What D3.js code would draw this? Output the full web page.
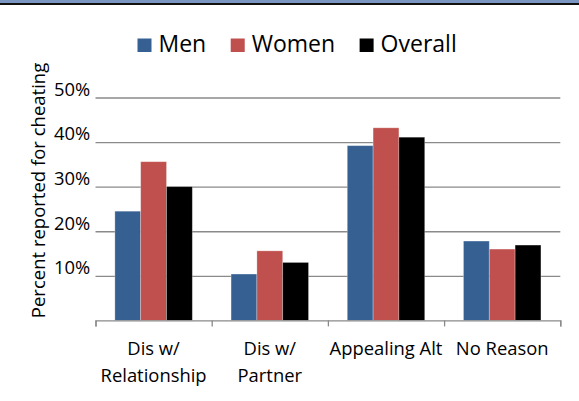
<!DOCTYPE html>
<html>
<head>
<meta charset="utf-8">
<script src="https://cdn.jsdelivr.net/npm/d3@7"></script>
<style>
  html, body { margin: 0; padding: 0; background: #fff; }
  svg { display: block; font-family: "Open Sans", "Noto Sans", sans-serif; }
</style>
</head>
<body>
<svg id="chart" width="579" height="401"></svg>
<script>
// ---- data ----
const categories = ["Dis w/\nRelationship", "Dis w/\nPartner", "Appealing Alt", "No Reason"];
const seriesNames = ["Men", "Women", "Overall"];
const men     = [0.245, 0.104, 0.392, 0.178];
const women   = [0.356, 0.156, 0.432, 0.160];
const overall = [0.300, 0.130, 0.411, 0.169];
const yTicks  = [0.1, 0.2, 0.3, 0.4, 0.5];
const yTitle  = "Percent reported for cheating";
const colors  = ["#376092", "#C0504D", "#000000"];

const seriesValues = [men, women, overall];

// ---- layout ----
const svg = d3.select("#chart");
const plot = { left: 95.5, right: 560.3, top: 97.5, bottom: 320.4 };

// top border
svg.append("rect").attr("x", 0).attr("y", 0).attr("width", 579).attr("height", 3).attr("fill", "#7b96c1");
svg.append("rect").attr("x", 0).attr("y", 3).attr("width", 579).attr("height", 2).attr("fill", "#111");

const x0 = d3.scaleBand().domain(categories).range([plot.left, plot.right]).paddingInner(0).paddingOuter(0);
const bw = x0.bandwidth();
const gap = bw * 0.75 / 4.5;
const x1 = d3.scaleBand().domain(seriesNames).range([gap, bw - gap]).padding(0);
const y = d3.scaleLinear().domain([0, 0.5]).range([plot.bottom, plot.top]);
const color = d3.scaleOrdinal().domain(seriesNames).range(colors);

// y gridlines + labels
const yAxis = svg.append("g")
  .attr("transform", `translate(${plot.left},0)`)
  .call(d3.axisLeft(y).tickValues(yTicks).tickSize(-(plot.right - plot.left)).tickPadding(5).tickFormat(d3.format(".0%")));
yAxis.select(".domain").remove();
yAxis.selectAll(".tick line").attr("stroke", "#8a8a8a").attr("stroke-width", 1.3);
yAxis.selectAll(".tick text")
  .attr("fill", "#000").attr("font-size", "18.4px").attr("font-family", "'Open Sans', sans-serif")
  .attr("dy", 0).attr("y", -2.2).attr("x", -5.2);

// bars
const rows = categories.map((c, i) => ({ cat: c, vals: seriesNames.map((s, j) => ({ s, v: seriesValues[j][i] })) }));
const groups = svg.append("g").selectAll("g").data(rows).join("g")
  .attr("transform", d => `translate(${x0(d.cat)},0)`);
groups.selectAll("rect").data(d => d.vals).join("rect")
  .attr("x", d => x1(d.s))
  .attr("y", d => y(d.v))
  .attr("width", x1.bandwidth())
  .attr("height", d => y(0) - y(d.v))
  .attr("fill", d => color(d.s))
  .attr("stroke", "rgba(255,255,255,0.35)")
  .attr("stroke-width", 0.8);

// x axis with boundary ticks
const tickScale = d3.scaleLinear().domain([0, categories.length]).range([plot.left, plot.right]);
const xAxis = svg.append("g")
  .attr("transform", `translate(0,${plot.bottom})`)
  .call(d3.axisBottom(tickScale).tickValues(d3.range(categories.length + 1)).tickSize(6).tickSizeOuter(6).tickFormat(""));
xAxis.select(".domain").attr("stroke", "#8a8a8a").attr("stroke-width", 1.3);
xAxis.selectAll(".tick line").attr("stroke", "#8a8a8a").attr("stroke-width", 1.3);

// category labels
const catLabels = svg.append("g").selectAll("text").data(categories).join("text")
  .attr("x", d => x0(d) + bw / 2)
  .attr("y", 355)
  .attr("text-anchor", "middle")
  .attr("font-size", "18.4px")
  .attr("fill", "#000");
catLabels.each(function(d) {
  const t = d3.select(this);
  d.split("\n").forEach((line, i) => {
    t.append("tspan").attr("x", x0(d) + bw / 2).attr("dy", i === 0 ? 0 : 26.6).text(line);
  });
});

// y title
svg.append("text")
  .attr("transform", "translate(45,190.5) rotate(-90)")
  .attr("text-anchor", "middle")
  .attr("font-size", "18.5px")
  .attr("fill", "#000")
  .text(yTitle);

// legend
const legend = svg.append("g");
let lx = 137.5;
seriesNames.forEach((s, i) => {
  legend.append("rect").attr("x", lx).attr("y", 38.5).attr("width", 14).attr("height", 13.5).attr("fill", color(s));
  const t = legend.append("text").attr("x", lx + 21).attr("y", 52).attr("font-size", "23px").attr("fill", "#000").text(s);
  lx = lx + 21 + t.node().getComputedTextLength() + 24.5;
});
</script>
</body>
</html>
